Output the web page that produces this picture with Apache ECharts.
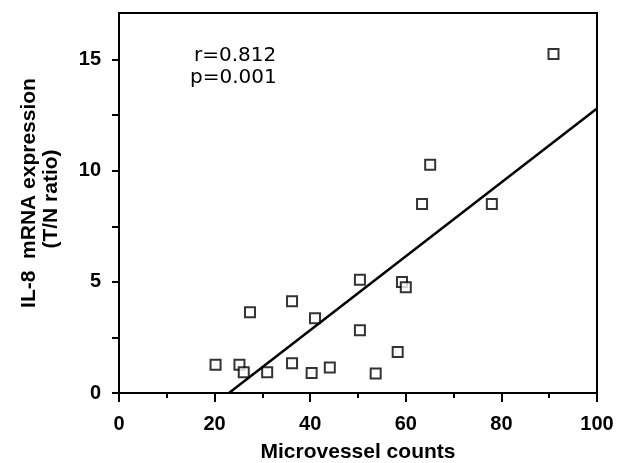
<!DOCTYPE html>
<html>
<head>
<meta charset="utf-8">
<script src="https://cdn.jsdelivr.net/npm/echarts@6/dist/echarts.min.js"></script>
<style>
  html, body { margin: 0; padding: 0; background: #fff; }
  #chart { width: 632px; height: 463px; }
</style>
</head>
<body>
<div id="chart"></div>
<script>
// microvessel counts (x) and IL-8 T/N ratio (y)
var vesselCounts = [20.2, 25.2, 26.1, 27.4, 31.0, 36.2, 36.2, 40.3, 41.0, 44.1, 50.4, 50.4, 53.7, 58.3, 59.2, 60.0, 63.4, 65.1, 78.0, 90.9]
var il8Ratio     = [1.27, 1.27, 0.93, 3.63, 0.93, 4.13, 1.34, 0.90, 3.36, 1.15, 2.82, 5.10, 0.88, 1.85, 5.00, 4.76, 8.50, 10.27, 8.50, 15.25]
// regression line end points as drawn
var fitX = [23, 100]
var fitY = [0, 12.8]
var statsText = ['r=0.812', 'p=0.001']
var yTitle = ['IL-8  mRNA expression', '(T/N ratio)']

var points = vesselCounts.map(function (v, i) { return [v, il8Ratio[i]] })
var fitLine = fitX.map(function (v, i) { return [v, fitY[i]] })

var titleFont = 'Liberation Sans, Arial, sans-serif'
var statFont = 'DejaVu Sans, sans-serif'
var chart = echarts.init(document.getElementById('chart'))

chart.setOption({
  animation: false,
  grid: {
    left: 119, right: 35, top: 13, bottom: 70,
    outerBoundsMode: 'none',
    show: true, borderColor: '#000', borderWidth: 2
  },
  xAxis: {
    type: 'value',
    min: 0, max: 100, interval: 20,
    name: 'Microvessel counts',
    nameLocation: 'middle',
    nameGap: 49,
    nameTextStyle: { color: '#000', fontFamily: titleFont, fontSize: 21, fontWeight: 'bold' },
    axisLine: { show: true, lineStyle: { color: '#000', width: 2 } },
    axisTick: { show: true, length: 9, lineStyle: { color: '#000', width: 2 } },
    minorTick: { show: true, splitNumber: 2, length: 5, lineStyle: { color: '#000', width: 2 } },
    axisLabel: { color: '#000', fontFamily: titleFont, fontSize: 20, fontWeight: 'bold', margin: 21 },
    splitLine: { show: false }
  },
  yAxis: {
    type: 'value',
    min: 0, max: 17.1, interval: 2.5,
    axisLine: { show: true, lineStyle: { color: '#000', width: 2 } },
    axisTick: { show: true, length: 7, lineStyle: { color: '#000', width: 2 } },
    axisLabel: {
      color: '#000', fontFamily: titleFont, fontSize: 20, fontWeight: 'bold', margin: 18,
      showMaxLabel: false,
      formatter: function (v) { return v % 5 === 0 ? String(v) : '' }
    },
    splitLine: { show: false }
  },
  graphic: [
    {
      type: 'text', x: 29, y: 193, rotation: Math.PI / 2,
      style: {
        text: yTitle[0], font: 'bold 21px ' + titleFont, fill: '#000',
        align: 'center', verticalAlign: 'middle'
      }
    },
    {
      type: 'text', x: 51, y: 199, rotation: Math.PI / 2,
      style: {
        text: yTitle[1], font: 'bold 21px ' + titleFont, fill: '#000',
        align: 'center', verticalAlign: 'middle'
      }
    },
    {
      type: 'text', left: 194, top: 46,
      style: { text: statsText[0], font: '20px ' + statFont, fill: '#000' }
    },
    {
      type: 'text', left: 190, top: 68,
      style: { text: statsText[1], font: '20px ' + statFont, fill: '#000' }
    }
  ],
  series: [
    {
      type: 'line',
      data: fitLine,
      symbol: 'none',
      lineStyle: { color: '#000', width: 2.5 },
      silent: true
    },
    {
      type: 'scatter',
      data: points,
      symbol: 'rect',
      symbolSize: 10,
      itemStyle: { color: '#fff', borderColor: '#000', borderWidth: 2 }
    }
  ]
})
</script>
</body>
</html>
